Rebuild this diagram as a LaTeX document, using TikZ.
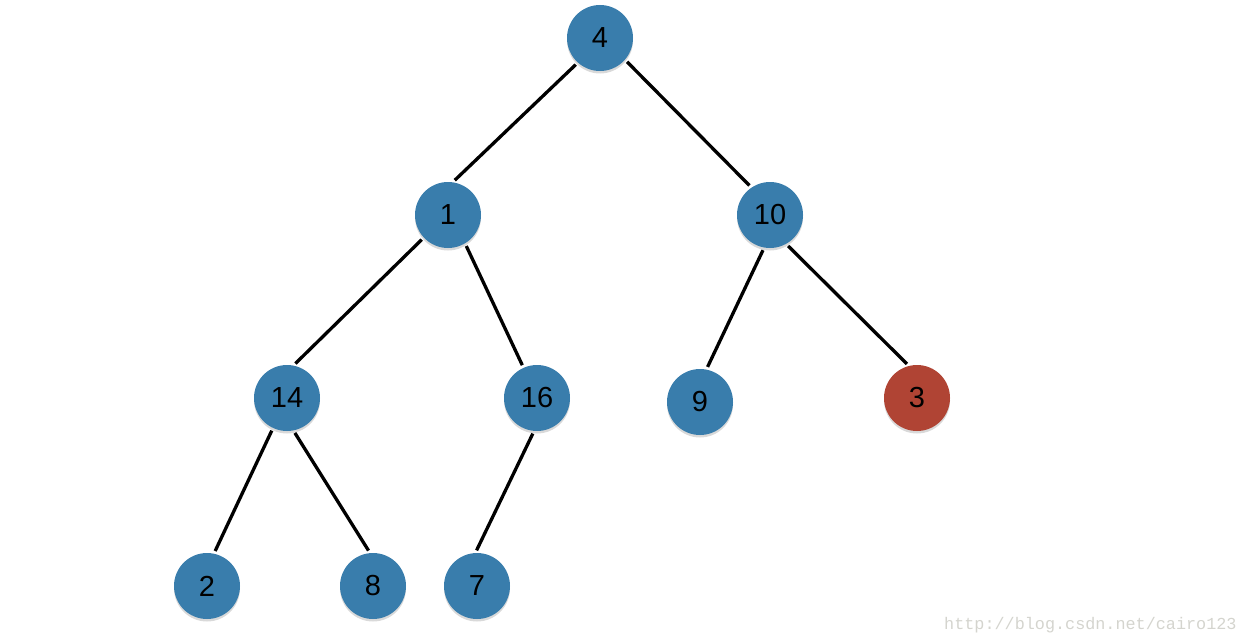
\documentclass[tikz,border=0pt]{standalone}
\usepackage{fontspec}
\setmainfont{Liberation Sans}
\newfontfamily\wmfont{Liberation Mono}
\usetikzlibrary{shadows}
\definecolor{nodeblue}{RGB}{57,125,172}
\definecolor{nodered}{RGB}{176,68,52}
\definecolor{wmgray}{RGB}{212,212,206}
\tikzset{
  tnode/.style={circle, fill=nodeblue, minimum size=66pt, inner sep=0pt, outer sep=0pt,
    font=\fontsize{29}{29}\selectfont, text=black,
    drop shadow={opacity=0.3, shadow xshift=0pt, shadow yshift=-2.5pt}},
  hot/.style={fill=nodered},
  edge/.style={line width=3.3pt, black, shorten <=3pt, shorten >=3pt}
}
\begin{document}
\begin{tikzpicture}[x=1pt,y=-1pt]
\useasboundingbox (0,0) rectangle (1246,642);
\node[tnode] (n4) at (600,38) {4};
\node[tnode] (n1) at (448,215) {1};
\node[tnode] (n10) at (770,215) {10};
\node[tnode] (n14) at (287,398) {14};
\node[tnode] (n16) at (537,398) {16};
\node[tnode] (n9) at (700,402) {9};
\node[tnode,hot] (n3) at (917,398) {3};
\node[tnode] (n2) at (207,586) {2};
\node[tnode] (n8) at (373,586) {8};
\node[tnode] (n7) at (477,586) {7};
\draw[edge] (n4.228) -- (n1.82);
\draw[edge] (n4.319) -- (n10.124);
\draw[edge] (n1.223) -- (n14.79);
\draw[edge] (n1.301) -- (n16.114);
\draw[edge] (n10.260) -- (n9.79);
\draw[edge] (n10.299) -- (n3.104);
\draw[edge] (n14.245) -- (n2.78);
\draw[edge] (n14.281) -- (n8.95);
\draw[edge] (n16.265) -- (n7.93);
\node[anchor=base west, inner sep=0pt, text=wmgray, font=\wmfont\fontsize{16.8}{16.8}\selectfont] (wm) at (944,629) {http://blog.csdn.net/cairo123};
\end{tikzpicture}
\end{document}
